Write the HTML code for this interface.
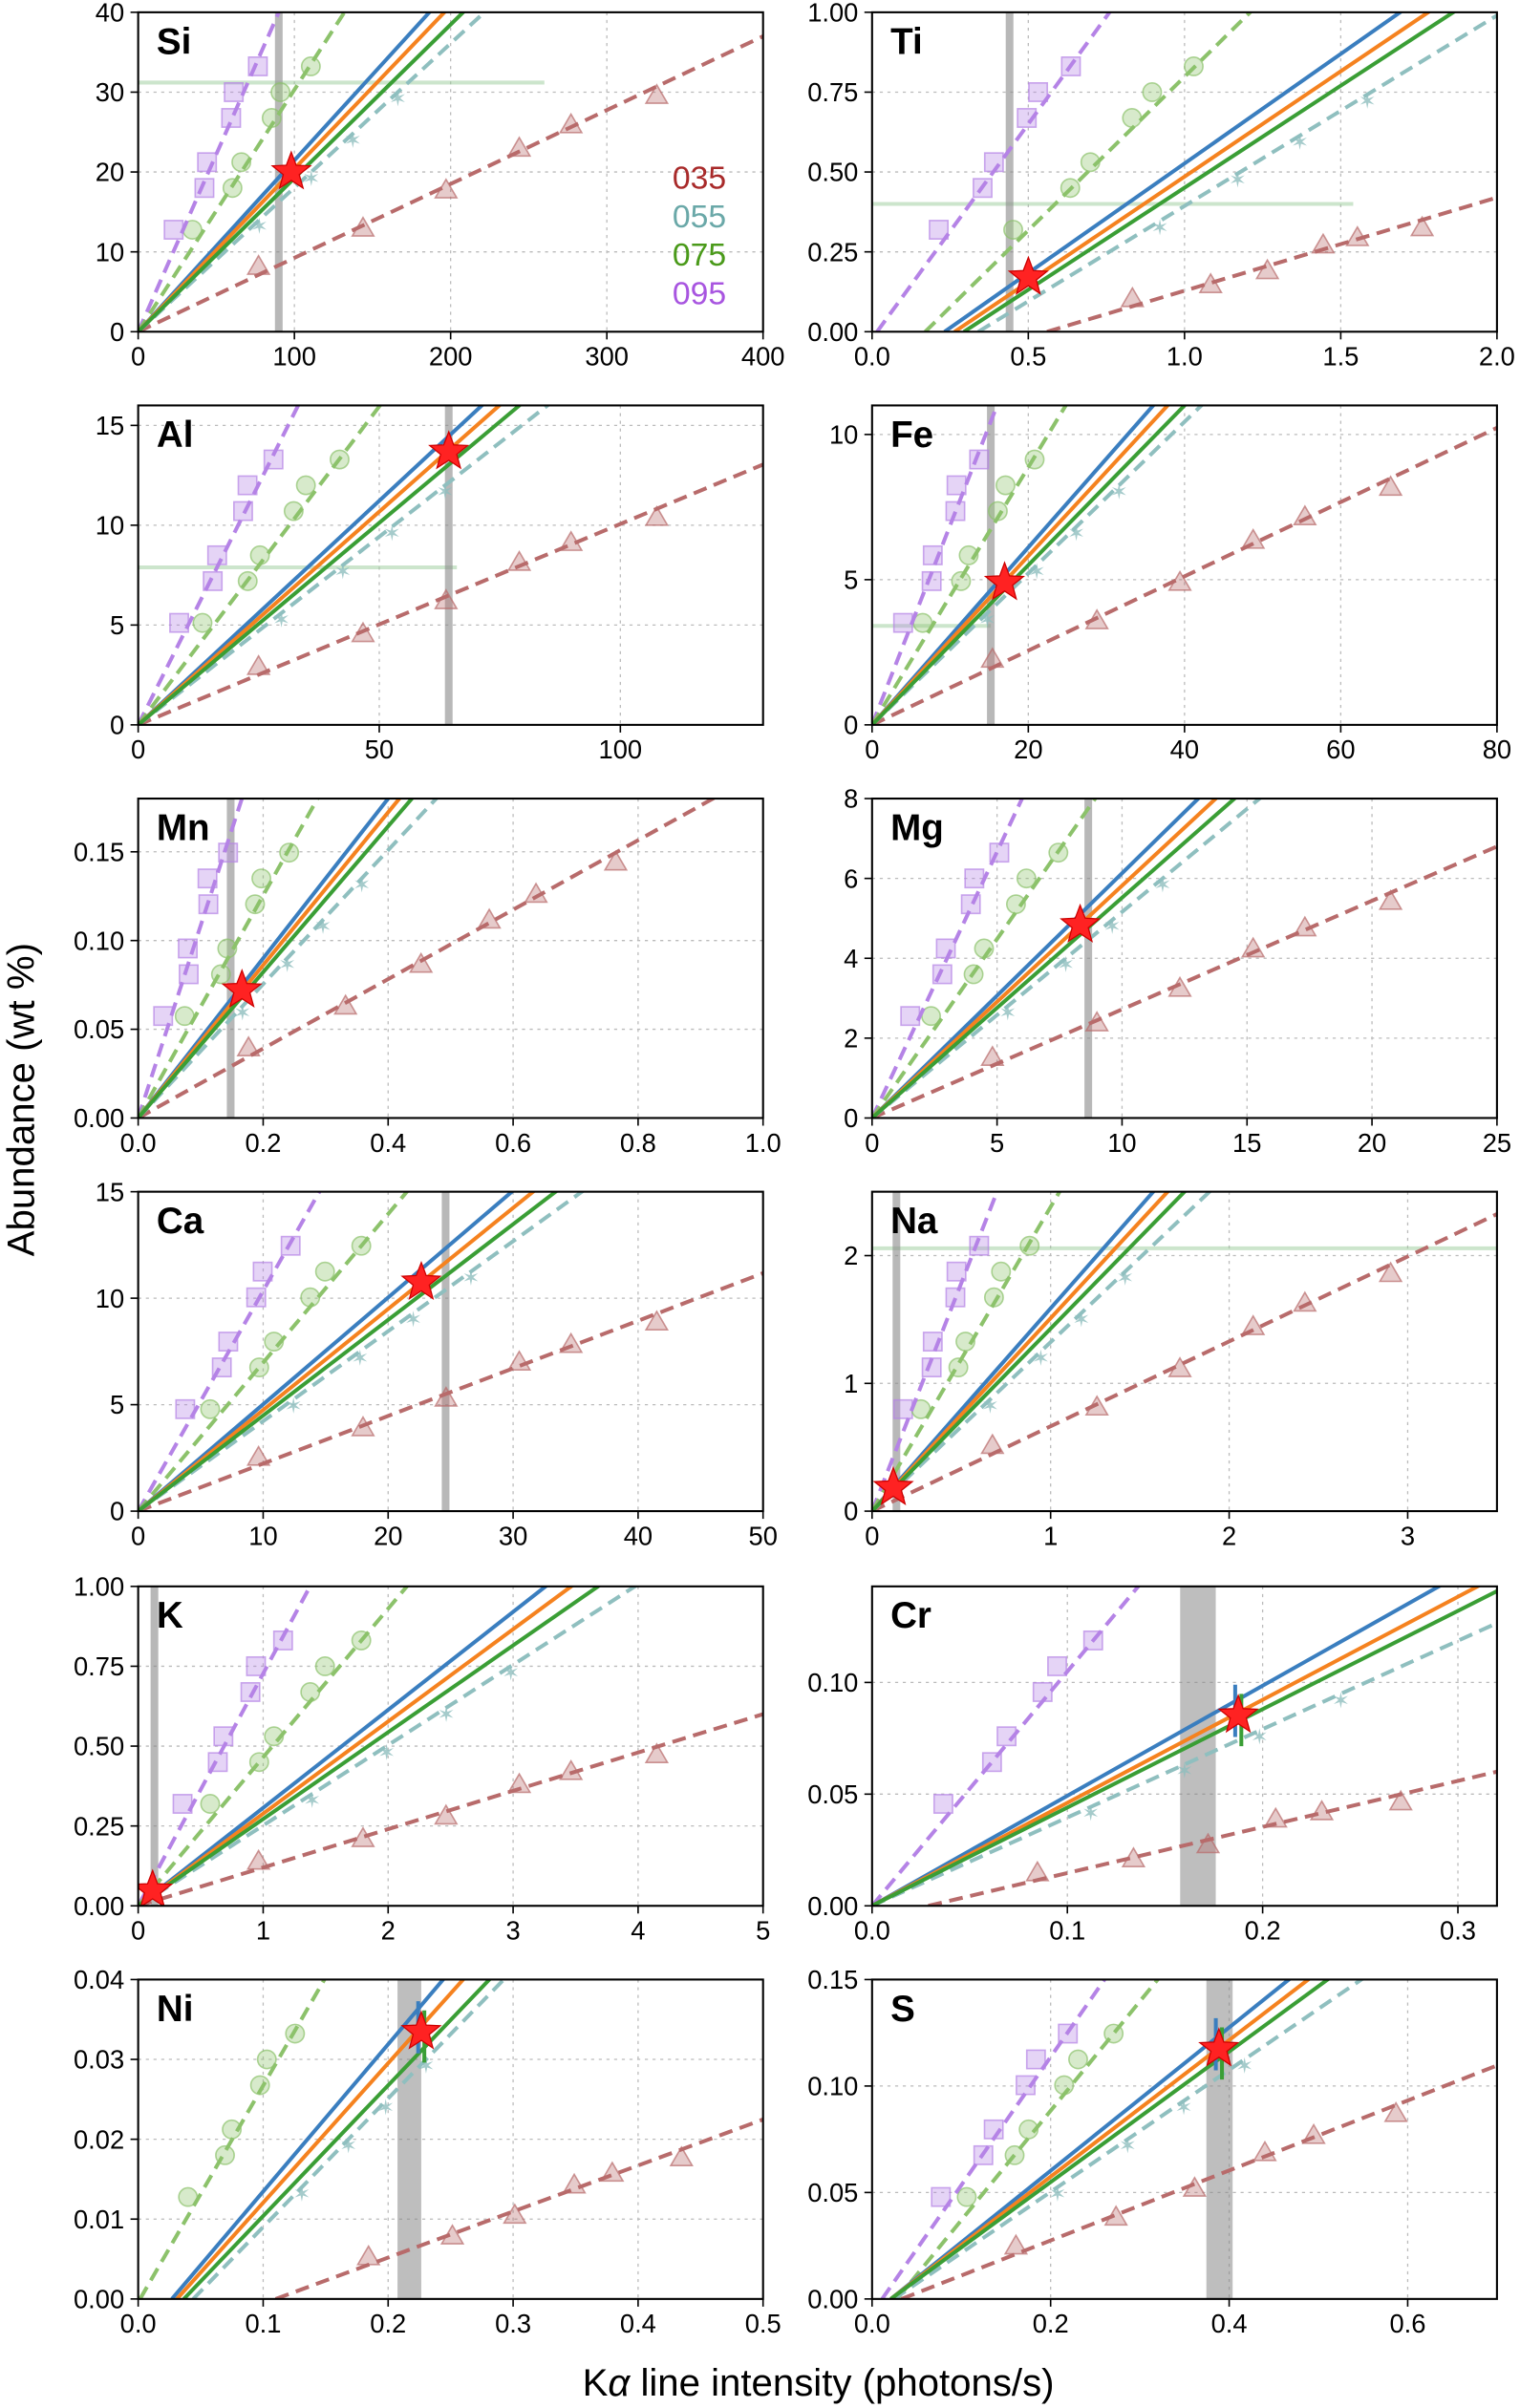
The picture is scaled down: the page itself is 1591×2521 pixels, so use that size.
<!DOCTYPE html>
<html><head><meta charset="utf-8"><style>
html,body{margin:0;padding:0;background:#fff}
svg{display:block}
text{font-family:"Liberation Sans","DejaVu Sans",sans-serif}
</style></head><body>
<svg id="s" xmlns="http://www.w3.org/2000/svg" width="1591" height="2521" viewBox="0 0 990 1568" preserveAspectRatio="none">
<rect width="990" height="1568" fill="#fff"/>
<text x="22" y="716" font-size="25" text-anchor="middle" transform="rotate(-90 22 716)">Abundance (wt %)</text>
<text x="533" y="1560" font-size="25" text-anchor="middle">K<tspan font-style="italic">α</tspan> line intensity (photons/s)</text>
</svg>
<script>
const B='#3a7ebf',O='#f5821f',G='#3a9e35',T='#8fbfbf',P='#b583e6',GD='#8cc26b',BR='#b86b6b';
const P_=[
{n:'Si',c:0,r:0,xt:[[0,'0'],[100,'100'],[200,'200'],[300,'300'],[400,'400']],xm:400,yt:[[0,'0'],[10,'10'],[20,'20'],[30,'30'],[40,'40']],ym:40,
 L:[[0,0,0.466,1],[0,0,0.49,1],[0,0,0.52,1],[0,0,0.554,1]],D:[[0,0,0.225,1],[0,0,0.33,1],[0,0,1,0.925]],star:[0.245,0.5],v:[0.225,0.225],leg:1,h:[0.78,0,0.65]},
{n:'Ti',c:1,r:0,xt:[[0,'0.0'],[0.5,'0.5'],[1,'1.0'],[1.5,'1.5'],[2,'2.0']],xm:2,yt:[[0,'0.00'],[0.25,'0.25'],[0.5,'0.50'],[0.75,'0.75'],[1,'1.00']],ym:1,
 L:[[0.116,0,0.845,1],[0.132,0,0.89,1],[0.147,0,0.93,1],[0.17,0,1,0.99]],D:[[0.008,0,0.38,1],[0.085,0,0.605,1],[0.28,0,1,0.42]],star:[0.25,0.17],v:[0.22,0.22],h:[0.4,0,0.77]},
{n:'Al',c:0,r:1,xt:[[0,'0'],[50,'50'],[100,'100']],xm:129.6,yt:[[0,'0'],[5,'5'],[10,'10'],[15,'15']],ym:16,
 L:[[0,0,0.55,1],[0,0,0.578,1],[0,0,0.61,1],[0,0,0.655,1]],D:[[0,0,0.256,1],[0,0,0.387,1],[0,0,1,0.815]],star:[0.497,0.855],v:[0.497,0.497],h:[0.493,0,0.51]},
{n:'Fe',c:1,r:1,xt:[[0,'0'],[20,'20'],[40,'40'],[60,'60'],[80,'80']],xm:80,yt:[[0,'0'],[5,'5'],[10,'10']],ym:11,
 L:[[0,0,0.45,1],[0,0,0.473,1],[0,0,0.5,1],[0,0,0.527,1]],D:[[0,0,0.2,1],[0,0,0.31,1],[0,0,1,0.93]],star:[0.212,0.445],v:[0.19,0.19],h:[0.31,0,0.19]},
{n:'Mn',c:0,r:2,xt:[[0,'0.0'],[0.2,'0.2'],[0.4,'0.4'],[0.6,'0.6'],[0.8,'0.8'],[1,'1.0']],xm:1,yt:[[0,'0.00'],[0.05,'0.05'],[0.1,'0.10'],[0.15,'0.15']],ym:0.18,
 L:[[0,0,0.4,1],[0,0,0.418,1],[0,0,0.438,1],[0,0,0.477,1]],D:[[0,0,0.166,1],[0,0,0.287,1],[0,0,0.92,1]],star:[0.166,0.4],v:[0.148,0.148]},
{n:'Mg',c:1,r:2,xt:[[0,'0'],[5,'5'],[10,'10'],[15,'15'],[20,'20'],[25,'25']],xm:25,yt:[[0,'0'],[2,'2'],[4,'4'],[6,'6'],[8,'8']],ym:8,
 L:[[0,0,0.522,1],[0,0,0.55,1],[0,0,0.58,1],[0,0,0.62,1]],D:[[0,0,0.24,1],[0,0,0.357,1],[0,0,1,0.85]],star:[0.333,0.604],v:[0.346,0.346]},
{n:'Ca',c:0,r:3,xt:[[0,'0'],[10,'10'],[20,'20'],[30,'30'],[40,'40'],[50,'50']],xm:50,yt:[[0,'0'],[5,'5'],[10,'10'],[15,'15']],ym:15,
 L:[[0,0,0.598,1],[0,0,0.632,1],[0,0,0.668,1],[0,0,0.71,1]],D:[[0,0,0.29,1],[0,0,0.43,1],[0,0,1,0.745]],star:[0.453,0.716],v:[0.492,0.492]},
{n:'Na',c:1,r:3,xt:[[0,'0'],[1,'1'],[2,'2'],[3,'3']],xm:3.5,yt:[[0,'0'],[1,'1'],[2,'2']],ym:2.5,
 L:[[0,0,0.45,1],[0,0,0.473,1],[0,0,0.5,1],[0,0,0.54,1]],D:[[0,0,0.2,1],[0,0,0.3,1],[0,0,1,0.93]],star:[0.034,0.073],v:[0.039,0.039],h:[0.823,0,1]},
{n:'K',c:0,r:4,xt:[[0,'0'],[1,'1'],[2,'2'],[3,'3'],[4,'4'],[5,'5']],xm:5,yt:[[0,'0.00'],[0.25,'0.25'],[0.5,'0.50'],[0.75,'0.75'],[1,'1.00']],ym:1,
 L:[[0,0,0.652,1],[0,0,0.693,1],[0,0,0.736,1],[0,0,0.795,1]],D:[[0,0,0.275,1],[0,0,0.43,1],[0,0,1,0.6]],star:[0.023,0.048],v:[0.026,0.026]},
{n:'Cr',c:1,r:4,xt:[[0,'0.0'],[0.1,'0.1'],[0.2,'0.2'],[0.3,'0.3']],xm:0.32,yt:[[0,'0.00'],[0.05,'0.05'],[0.1,'0.10']],ym:0.143,
 L:[[0,0,0.907,1],[0,0,0.969,1],[0,0,1,0.985],[0,0,1,0.885]],D:[[0,0,0.426,1],null,[0.09,0,1,0.42]],star:[0.586,0.596],v:[0.493,0.55],eb:1},
{n:'Ni',c:0,r:5,xt:[[0,'0.0'],[0.1,'0.1'],[0.2,'0.2'],[0.3,'0.3'],[0.4,'0.4'],[0.5,'0.5']],xm:0.5,yt:[[0,'0.00'],[0.01,'0.01'],[0.02,'0.02'],[0.03,'0.03'],[0.04,'0.04']],ym:0.04,
 L:[[0.054,0,0.488,1],[0.062,0,0.52,1],[0.073,0,0.562,1],[0.088,0,0.585,1]],D:[null,[0.003,0,0.298,1],[0.22,0,1,0.562]],star:[0.453,0.836],v:[0.415,0.453],eb:1},
{n:'S',c:1,r:5,xt:[[0,'0.0'],[0.2,'0.2'],[0.4,'0.4'],[0.6,'0.6']],xm:0.7,yt:[[0,'0.00'],[0.05,'0.05'],[0.1,'0.10'],[0.15,'0.15']],ym:0.15,
 L:[[0.03,0,0.667,1],[0.03,0,0.698,1],[0.03,0,0.729,1],[0.035,0,0.783,1]],D:[[0.016,0,0.372,1],[0.04,0,0.457,1],[0.047,0,1,0.731]],star:[0.555,0.783],v:[0.535,0.577],eb:1}
];
const s=document.getElementById('s');let h='';
const tops=[8,264,520,776,1033,1289],lefts=[90,568],W=407,H=208;
function star(cx,cy,R,r){let p=[];for(let i=0;i<10;i++){const a=-Math.PI/2+i*Math.PI/5,rr=i%2?r:R;p.push((cx+rr*Math.cos(a)).toFixed(1)+','+(cy+rr*Math.sin(a)).toFixed(1));}return p.join(' ');}
P_.forEach((p,k)=>{
 const x0=lefts[p.c],y0=tops[p.r],X=f=>x0+f*W,Y=f=>y0+H-f*H;
 h+=`<clipPath id="c${k}"><rect x="${x0}" y="${y0}" width="${W}" height="${H}"/></clipPath>`;
 p.xt.forEach(t=>{const x=X(t[0]/p.xm);h+=`<line x1="${x}" y1="${y0}" x2="${x}" y2="${y0+H}" stroke="#bbb" stroke-width="0.8" stroke-dasharray="2,3"/><line x1="${x}" y1="${y0+H}" x2="${x}" y2="${y0+H+5}" stroke="#000"/><text x="${x}" y="${y0+H+22}" font-size="17" text-anchor="middle">${t[1]}</text>`;});
 p.yt.forEach(t=>{const y=Y(t[0]/p.ym);h+=`<line x1="${x0}" y1="${y}" x2="${x0+W}" y2="${y}" stroke="#bbb" stroke-width="0.8" stroke-dasharray="2,3"/><line x1="${x0-5}" y1="${y}" x2="${x0}" y2="${y}" stroke="#000"/><text x="${x0-9}" y="${y+6}" font-size="17" text-anchor="end">${t[1]}</text>`;});
 h+=`<g clip-path="url(#c${k})">`;
 if(p.h)h+=`<line x1="${X(p.h[1])}" y1="${Y(p.h[0])}" x2="${X(p.h[2])}" y2="${Y(p.h[0])}" stroke="#9c9" stroke-opacity="0.5" stroke-width="2.5"/>`;
 if(p.v[0]==p.v[1])h+=`<rect x="${X(p.v[0])-2.5}" y="${y0}" width="5" height="${H}" fill="#888" opacity="0.6"/>`;
 else h+=`<rect x="${X(p.v[0])}" y="${y0}" width="${X(p.v[1])-X(p.v[0])}" height="${H}" fill="#888" opacity="0.55"/>`;
 const mk=[[P,'sq'],[GD,'hx'],[BR,'tr']];
 p.D.forEach((d,i)=>{if(!d)return;const [c,t]=mk[i];const ts=i==2?[0.2,0.35,0.5,0.6,0.7,0.82]:[0.3,0.45,0.55,0.65,0.75,0.85];
  ts.forEach((u,j)=>{const fx=d[0]+(d[2]-d[0])*u*(i==2?1:0.95),fy=d[1]+(d[3]-d[1])*u;const x=X(fx)+((j%2)?4:-3),y=Y(fy)+((j%3)-1)*4;
   if(t=='sq')h+=`<rect x="${x-6}" y="${y-6}" width="12" height="12" fill="${c}" fill-opacity="0.35" stroke="${c}" stroke-opacity="0.7"/>`;
   else if(t=='hx')h+=`<circle cx="${x}" cy="${y}" r="6" fill="${c}" fill-opacity="0.35" stroke="${c}" stroke-opacity="0.7"/>`;
   else h+=`<polygon points="${x},${y-7} ${x+7},${y+5} ${x-7},${y+5}" fill="${c}" fill-opacity="0.35" stroke="${c}" stroke-opacity="0.7"/>`;});});
 [0.35,0.5,0.62,0.75].forEach(u=>{const d=p.L[3];const x=X(d[0]+(d[2]-d[0])*u),y=Y(d[1]+(d[3]-d[1])*u)+4;h+=`<text x="${x}" y="${y+5}" font-size="14" text-anchor="middle" fill="${T}" opacity="0.8">✶</text>`;});
 const ln=(d,c,dash,w)=>{if(!d)return;const ex=d[0]+(d[2]-d[0])*1.3,ey=d[1]+(d[3]-d[1])*1.3;h+=`<line x1="${X(d[0])}" y1="${Y(d[1])}" x2="${X(ex)}" y2="${Y(ey)}" stroke="${c}" stroke-width="${w}" ${dash?'stroke-dasharray="9,5"':''}/>`;};
 [[P,0],[GD,1],[BR,2]].forEach(a=>ln(p.D[a[1]],a[0],1,2.5));
 ln(p.L[3],T,1,2.5);ln(p.L[0],B,0,2.5);ln(p.L[1],O,0,2.5);ln(p.L[2],G,0,2.5);
 const sx=X(p.star[0]),sy=Y(p.star[1]);
 if(p.eb)h+=`<line x1="${sx-2}" y1="${sy-20}" x2="${sx-2}" y2="${sy+14}" stroke="${B}" stroke-width="2.5"/><line x1="${sx+2}" y1="${sy-14}" x2="${sx+2}" y2="${sy+20}" stroke="${G}" stroke-width="2.5"/>`;
 h+=`<polygon points="${star(sx,sy,13,5.5)}" fill="#f22" stroke="#c00" stroke-width="0.8"/>`;
 h+=`</g><rect x="${x0}" y="${y0}" width="${W}" height="${H}" fill="none" stroke="#000" stroke-width="1.3"/>`;
 h+=`<text x="${x0+12}" y="${y0+27}" font-size="24" font-weight="bold">${p.n}</text>`;
 if(p.leg){[['035','#a82a2a'],['055','#6aa8a8'],['075','#4a9a1a'],['095','#a855e0']].forEach((l,i)=>{h+=`<text x="473" y="${123+i*25}" font-size="21" text-anchor="end" fill="${l[1]}">${l[0]}</text>`;});}
});
s.insertAdjacentHTML('beforeend',h);
</script>
</body></html>
